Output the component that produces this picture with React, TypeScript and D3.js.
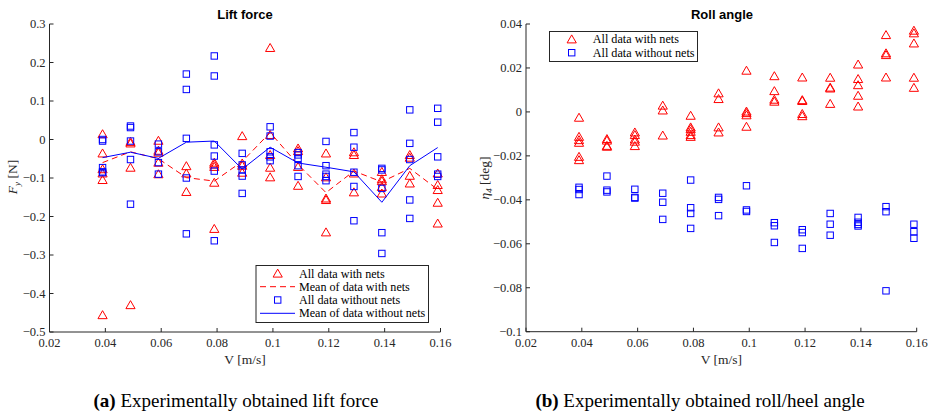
import React from "react";
import * as d3 from "d3";

// Towing speeds (m/s) for each test series
const speeds = [0.039, 0.049, 0.059, 0.069, 0.079, 0.089, 0.099, 0.109, 0.119, 0.129, 0.139, 0.149, 0.159];

// Lift force F_y [N], repeated runs per speed
const liftWithNets = [
  [0.014, -0.036, -0.077, -0.088, -0.105, -0.456],
  [-0.006, -0.01, -0.073, -0.43],
  [-0.003, -0.029, -0.034, -0.06, -0.09],
  [-0.069, -0.088, -0.136],
  [-0.06, -0.065, -0.071, -0.112, -0.232],
  [0.009, -0.062, -0.068, -0.086],
  [0.238, 0.012, -0.04, -0.073, -0.098],
  [-0.023, -0.03, -0.071, -0.12],
  [-0.036, -0.098, -0.153, -0.157, -0.241],
  [-0.033, -0.04, -0.088, -0.137],
  [-0.084, -0.103, -0.108, -0.123, -0.14],
  [-0.04, -0.047, -0.094, -0.114],
  [-0.088, -0.118, -0.131, -0.164, -0.218],
];
const liftWithoutNets = [
  [0.0, -0.004, -0.073, -0.084, -0.086],
  [0.035, 0.031, -0.004, -0.052, -0.168],
  [-0.012, -0.032, -0.06, -0.09],
  [0.17, 0.13, 0.003, -0.1, -0.245],
  [0.217, 0.165, -0.014, -0.043, -0.082, -0.263],
  [-0.036, -0.066, -0.079, -0.095, -0.14],
  [0.033, 0.009, -0.032, -0.045, -0.055],
  [-0.034, -0.04, -0.049, -0.068, -0.096],
  [-0.005, -0.068, -0.09, -0.096, -0.107],
  [0.018, -0.02, -0.085, -0.122, -0.211],
  [-0.075, -0.079, -0.127, -0.242, -0.296],
  [0.077, -0.01, -0.052, -0.157, -0.205],
  [0.081, 0.045, -0.045, -0.09, -0.096],
];
const liftMeanWithNets = [-0.06, -0.032, -0.05, -0.099, -0.108, -0.057, 0.018, -0.065, -0.138, -0.082, -0.11, -0.075, -0.13];
const liftMeanWithoutNets = [-0.047, -0.033, -0.049, -0.007, -0.004, -0.077, -0.02, -0.061, -0.072, -0.084, -0.163, -0.068, -0.021];

// Roll angle eta_4 [deg], repeated runs per speed
const rollWithNets = [
  [-0.0026, -0.0113, -0.0128, -0.014, -0.0204, -0.0219],
  [-0.0123, -0.013, -0.0154, -0.0158],
  [-0.0093, -0.0105, -0.0125, -0.0135, -0.0155],
  [0.0029, 0.0007, -0.0107],
  [-0.0017, -0.007, -0.0078, -0.009, -0.0105, -0.0113],
  [0.0085, 0.0059, -0.007, -0.0093],
  [0.0188, 0.0002, -0.0005, -0.0015, -0.0067],
  [0.0163, 0.0095, 0.0056, 0.0047],
  [0.0157, 0.0054, 0.005, -0.0009, -0.0019],
  [0.0156, 0.0111, 0.0107, 0.0037],
  [0.0216, 0.015, 0.0122, 0.0074, 0.0025],
  [0.035, 0.0267, 0.0259, 0.0157],
  [0.037, 0.0358, 0.0312, 0.0156, 0.011],
];
const rollWithoutNets = [
  [-0.0343, -0.0353, -0.0376],
  [-0.0292, -0.0356, -0.0364],
  [-0.0352, -0.0389, -0.0392],
  [-0.037, -0.0411, -0.0489],
  [-0.031, -0.0436, -0.0462, -0.053],
  [-0.0389, -0.0398, -0.0472],
  [-0.0336, -0.0446, -0.0453],
  [-0.0504, -0.0518, -0.0594],
  [-0.0536, -0.0549, -0.0621],
  [-0.0462, -0.0511, -0.0561],
  [-0.048, -0.0502, -0.0512, -0.0519],
  [-0.0431, -0.0454, -0.0814],
  [-0.0511, -0.0545, -0.0575],
];

const xTicks = [0.02, 0.04, 0.06, 0.08, 0.1, 0.12, 0.14, 0.16];
const liftTicks = [0.3, 0.2, 0.1, 0, -0.1, -0.2, -0.3, -0.4, -0.5];
const rollTicks = [0.04, 0.02, 0, -0.02, -0.04, -0.06, -0.08, -0.1];

const RED = "#ff0000";
const BLUE = "#0000ff";
const AXIS = "#262626";
const SERIF = "'Liberation Serif', 'DejaVu Serif', serif";
const SANS = "'Liberation Sans', Arial, sans-serif";

const fmt = (v: number) => d3.format("~g")(+v.toFixed(4));

function Triangle({ x, y }: { x: number; y: number }) {
  const w = 4.6, up = 4.4, dn = 3.6;
  return (
    <path
      d={`M${x},${y - up}L${x + w},${y + dn}L${x - w},${y + dn}Z`}
      fill="none"
      stroke={RED}
      strokeWidth={1}
    />
  );
}

function Square({ x, y }: { x: number; y: number }) {
  const s = 6.4;
  return <rect x={x - s / 2} y={y - s / 2} width={s} height={s} fill="none" stroke={BLUE} strokeWidth={1} />;
}

function Axes({
  x, y, yTicks, title, titleX,
}: {
  x: d3.ScaleLinear<number, number>;
  y: d3.ScaleLinear<number, number>;
  yTicks: number[];
  title: string;
  titleX: number;
}) {
  const [x0, x1] = x.range();
  const [y0, y1] = y.range();
  return (
    <g>
      <line x1={x0} x2={x1} y1={y0} y2={y0} stroke={AXIS} strokeWidth={1} />
      <line x1={x0} x2={x0} y1={y0} y2={y1} stroke={AXIS} strokeWidth={1} />
      {xTicks.map((t) => (
        <g key={"x" + t}>
          <line x1={x(t)} x2={x(t)} y1={y0} y2={y0 - 4} stroke={AXIS} />
          <text x={x(t)} y={y0 + 15} textAnchor="middle" fontFamily={SERIF} fontSize={12.5} fill={AXIS}>
            {fmt(t)}
          </text>
        </g>
      ))}
      {yTicks.map((t) => (
        <g key={"y" + t}>
          <line x1={x0} x2={x0 + 4} y1={y(t)} y2={y(t)} stroke={AXIS} />
          <text x={x0 - 4} y={y(t) + 4} textAnchor="end" fontFamily={SERIF} fontSize={12.5} fill={AXIS}>
            {fmt(t)}
          </text>
        </g>
      ))}
      <text x={titleX} y={19} textAnchor="middle" fontFamily={SANS} fontWeight="bold" fontSize={13} fill="#000">
        {title}
      </text>
      <text x={(x0 + x1) / 2} y={y0 + 32} textAnchor="middle" fontFamily={SERIF} fontSize={13.5} fill={AXIS}>
        V [m/s]
      </text>
    </g>
  );
}

export default function App() {
  const xL = d3.scaleLinear().domain([0.02, 0.16]).range([49.5, 440.5]);
  const yL = d3.scaleLinear().domain([-0.5, 0.3]).range([332, 24]);
  const xR = d3.scaleLinear().domain([0.02, 0.16]).range([526, 916.7]);
  const yR = d3.scaleLinear().domain([-0.1, 0.04]).range([331.7, 24]);

  const lineL = d3
    .line<number>()
    .x((_, i) => xL(speeds[i]))
    .y((d) => yL(d));

  return (
    <svg width={931} height={415} style={{ position: "absolute", left: 0, top: 0, background: "#fff" }}>
      <rect width={931} height={415} fill="#fff" />

      {/* Lift force panel */}
      <Axes x={xL} y={yL} yTicks={liftTicks} title="Lift force" titleX={245} />
      <text
        transform="translate(17,177) rotate(-90)"
        textAnchor="middle"
        fontFamily={SERIF}
        fontSize={13.5}
        fill={AXIS}
      >
        <tspan fontStyle="italic">F</tspan>
        <tspan fontStyle="italic" fontSize={9} dy={3}>y</tspan>
        <tspan dy={-3}> [N]</tspan>
      </text>
      {speeds.map((v, i) =>
        liftWithNets[i].map((d, j) => <Triangle key={`lt${i}-${j}`} x={xL(v)} y={yL(d)} />)
      )}
      <path d={lineL(liftMeanWithNets) || ""} fill="none" stroke={RED} strokeWidth={1} strokeDasharray="6,4" />
      {speeds.map((v, i) =>
        liftWithoutNets[i].map((d, j) => <Square key={`ls${i}-${j}`} x={xL(v)} y={yL(d)} />)
      )}
      <path d={lineL(liftMeanWithoutNets) || ""} fill="none" stroke={BLUE} strokeWidth={1} />

      {/* Lift legend */}
      <g>
        <rect x={256} y={265.5} width={172.5} height={57} fill="#fff" stroke={AXIS} strokeWidth={1} />
        <Triangle x={277.7} y={273.5} />
        <line x1={260} x2={295} y1={286.7} y2={286.7} stroke={RED} strokeDasharray="6,4" />
        <Square x={277.7} y={300} />
        <line x1={260} x2={295} y1={313.3} y2={313.3} stroke={BLUE} />
        {["All data with nets", "Mean of data with nets", "All data without nets", "Mean of data without nets"].map(
          (t, i) => (
            <text key={t} x={299} y={277.5 + i * 13.3} fontFamily={SERIF} fontSize={12.1} fill="#000">
              {t}
            </text>
          )
        )}
      </g>

      {/* Roll angle panel */}
      <Axes x={xR} y={yR} yTicks={rollTicks} title="Roll angle" titleX={722} />
      <text
        transform="translate(489,178) rotate(-90)"
        textAnchor="middle"
        fontFamily={SERIF}
        fontSize={13.5}
        fill={AXIS}
      >
        <tspan fontStyle="italic">η</tspan>
        <tspan fontStyle="italic" fontSize={9} dy={3}>4</tspan>
        <tspan dy={-3}> [deg]</tspan>
      </text>
      {speeds.map((v, i) =>
        rollWithNets[i].map((d, j) => <Triangle key={`rt${i}-${j}`} x={xR(v)} y={yR(d)} />)
      )}
      {speeds.map((v, i) =>
        rollWithoutNets[i].map((d, j) => <Square key={`rs${i}-${j}`} x={xR(v)} y={yR(d)} />)
      )}

      {/* Roll legend */}
      <g>
        <rect x={549.5} y={31.5} width={148} height={30} fill="#fff" stroke={AXIS} strokeWidth={1} />
        <Triangle x={571.7} y={39.3} />
        <Square x={571.7} y={52.7} />
        {["All data with nets", "All data without nets"].map((t, i) => (
          <text key={t} x={592.7} y={43 + i * 13.5} fontFamily={SERIF} fontSize={12.2} fill="#000">
            {t}
          </text>
        ))}
      </g>

      {/* Sub-figure captions */}
      <text x={236} y={407} textAnchor="middle" fontFamily={SERIF} fontSize={19} fill="#000">
        <tspan fontWeight="bold">(a)</tspan> Experimentally obtained lift force
      </text>
      <text x={700} y={407} textAnchor="middle" fontFamily={SERIF} fontSize={19} fill="#000">
        <tspan fontWeight="bold">(b)</tspan> Experimentally obtained roll/heel angle
      </text>
    </svg>
  );
}
